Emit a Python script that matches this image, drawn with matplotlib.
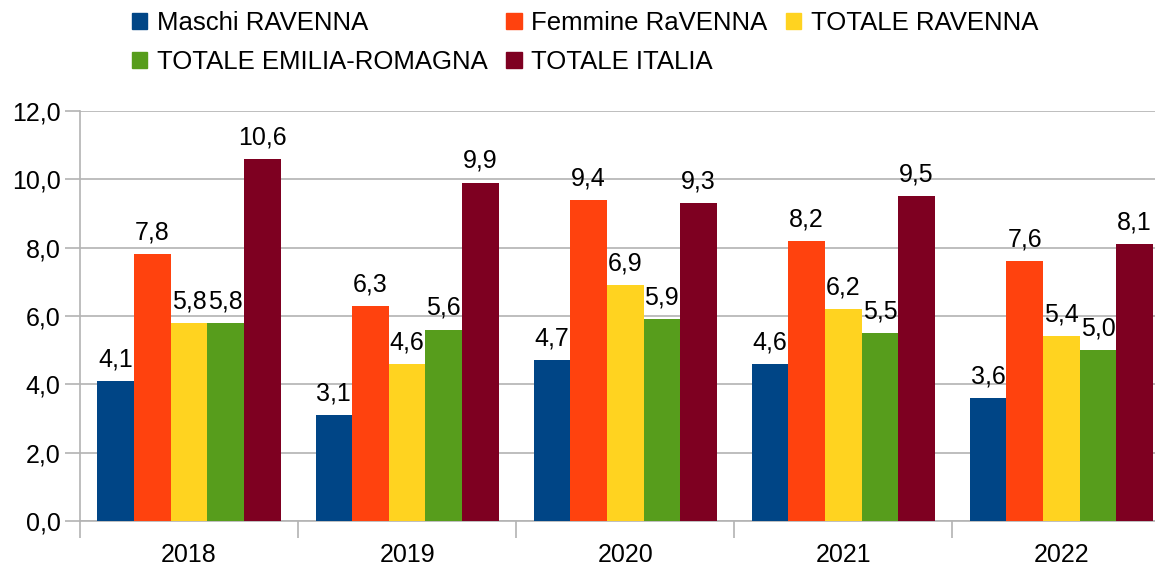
import matplotlib.pyplot as plt
import numpy as np
from matplotlib.patches import Rectangle
from matplotlib.ticker import FuncFormatter, FixedLocator

plt.rcParams['font.family'] = ['Liberation Sans', 'DejaVu Sans']

years = ['2018', '2019', '2020', '2021', '2022']
series_names = ['Maschi RAVENNA', 'Femmine RaVENNA', 'TOTALE RAVENNA',
                'TOTALE EMILIA-ROMAGNA', 'TOTALE ITALIA']
maschi_ra = [4.1, 3.1, 4.7, 4.6, 3.6]
femmine_ra = [7.8, 6.3, 9.4, 8.2, 7.6]
totale_ra = [5.8, 4.6, 6.9, 6.2, 5.4]
totale_er = [5.8, 5.6, 5.9, 5.5, 5.0]
totale_it = [10.6, 9.9, 9.3, 9.5, 8.1]
colors = ['#004586', '#ff420e', '#ffd320', '#579d1c', '#7e0021']

all_series = [maschi_ra, femmine_ra, totale_ra, totale_er, totale_it]

fig = plt.figure(figsize=(11.55, 5.68), dpi=100)
ax = fig.add_axes([0.0693, 0.0827, 0.944, 0.722])

x = np.arange(len(years))
w = 0.84 / 5
for i, (vals, col) in enumerate(zip(all_series, colors)):
    bars = ax.bar(x - 0.42 + w * (i + 0.5), vals, w, color=col, zorder=3)
    ax.bar_label(bars, labels=[f'{v:.1f}'.replace('.', ',') for v in vals],
                 padding=7, fontsize=18, color='#000000')

ax.set_xlim(-0.5, 4.5)
ax.set_ylim(0, 12)
ax.set_yticks(np.arange(0, 12.1, 2))
ax.yaxis.set_major_formatter(FuncFormatter(lambda v, p: f'{v:.1f}'.replace('.', ',')))
ax.set_xticks(x)
ax.set_xticklabels(years)
ax.xaxis.set_minor_locator(FixedLocator(np.arange(-0.5, 5, 1)))
ax.tick_params(axis='x', which='major', length=0, labelsize=18, pad=16)
ax.tick_params(axis='x', which='minor', length=12, color='#b3b3b3', width=1.2)
ax.tick_params(axis='y', length=11, color='#b3b3b3', width=1.2, labelsize=18, pad=3)
ax.grid(axis='y', color='#b3b3b3', linewidth=1.2, zorder=0)
for s in ['top', 'right']:
    ax.spines[s].set_visible(False)
for s in ['left', 'bottom']:
    ax.spines[s].set_color('#b3b3b3')
    ax.spines[s].set_linewidth(1.2)

# legend: 3 columns, filled column by column
handles = [Rectangle((0, 0), 1, 1, color=c) for c in colors]
order = [0, 3, 1, 4, 2]
fig.legend([handles[k] for k in order], [series_names[k] for k in order],
           ncol=3, loc='upper left', bbox_to_anchor=(0.114, 0.98),
           frameon=False, fontsize=18.5, handlelength=0.6, handleheight=0.6,
           handletextpad=0.38, columnspacing=0.72, labelspacing=0.56,
           borderaxespad=0, borderpad=0)

fig.savefig('out.png', dpi=100)
